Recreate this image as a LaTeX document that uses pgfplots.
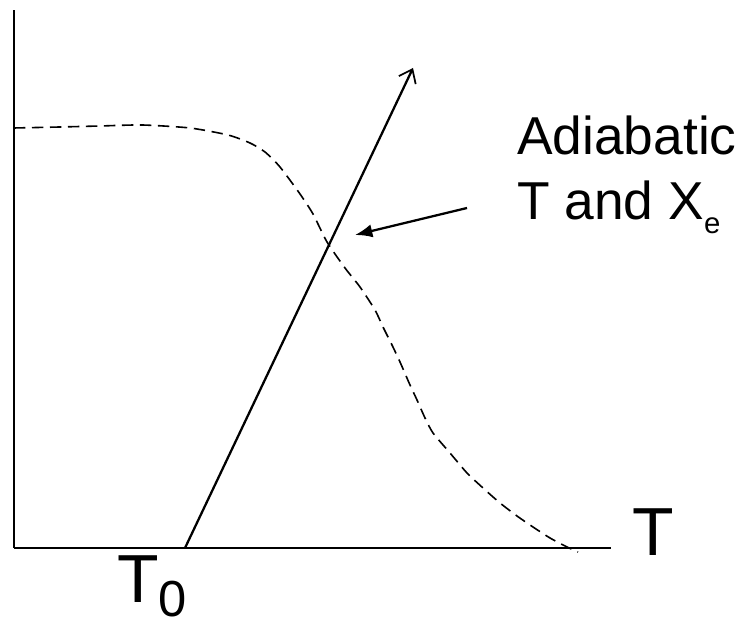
\documentclass[border=0pt]{standalone}
\usepackage{pgfplots}
\pgfplotsset{compat=1.18}
\usepackage{fontspec}
\setmainfont{Liberation Sans}
\usetikzlibrary{arrows.meta}
\begin{document}
\begin{tikzpicture}[x=1pt,y=1pt]
\useasboundingbox (0,0) rectangle (555,468);
\begin{axis}[
  at={(10.5pt,57pt)}, anchor=south west,
  scale only axis, width=447.75pt, height=403.5pt,
  xmin=14, xmax=611, ymin=76, ymax=614,
  axis x line=bottom, axis y line=left,
  axis line style={-, line width=1.3pt, black},
  xtick=\empty, ytick=\empty,
  clip=false,
]
% dashed curve
\addplot[black, line width=1.2pt, dash pattern=on 8.5pt off 5pt, smooth, tension=0.4] coordinates {
(14,496) (60,497) (100,498) (142,499) (190,496) (228,489) (250,481) (265,472)
(280,457) (300,430) (313,410) (327,382) (345,356) (360,337) (375,314) (383,297)
(392,279) (400,262) (410,239) (417,224) (425,206) (433,191) (450,171) (467,151)
(483,136) (500,121) (517,108) (533,97) (550,86) (567,77) (578,72)};
% solid adiabatic line
\addplot[black, line width=1.7pt, -{Straight Barb[length=9pt,width=14pt,line width=1.3pt]}] coordinates {(185,76) (413,556)};
% annotation arrow
\draw[black, line width=1.7pt, -{Latex[length=13pt,width=10pt]}] (axis cs:467,416) -- (axis cs:355,389);
% text
\node[anchor=base west, inner sep=0pt, font=\fontsize{40}{40}\selectfont] at (axis cs:517,469) {Adiabatic};
\node[anchor=base west, inner sep=0pt, font=\fontsize{40}{40}\selectfont] at (axis cs:517,404) {T and X\raisebox{-10.5pt}{\fontsize{22}{22}\selectfont e}};
\node[anchor=base west, inner sep=0pt, font=\fontsize{51}{51}\selectfont] at (axis cs:632,68) {T};
\node[anchor=base west, inner sep=0pt, font=\fontsize{51}{51}\selectfont] at (axis cs:117,21) {T\raisebox{-10.5pt}{\fontsize{38}{38}\selectfont 0}};
\end{axis}
\end{tikzpicture}
\end{document}
